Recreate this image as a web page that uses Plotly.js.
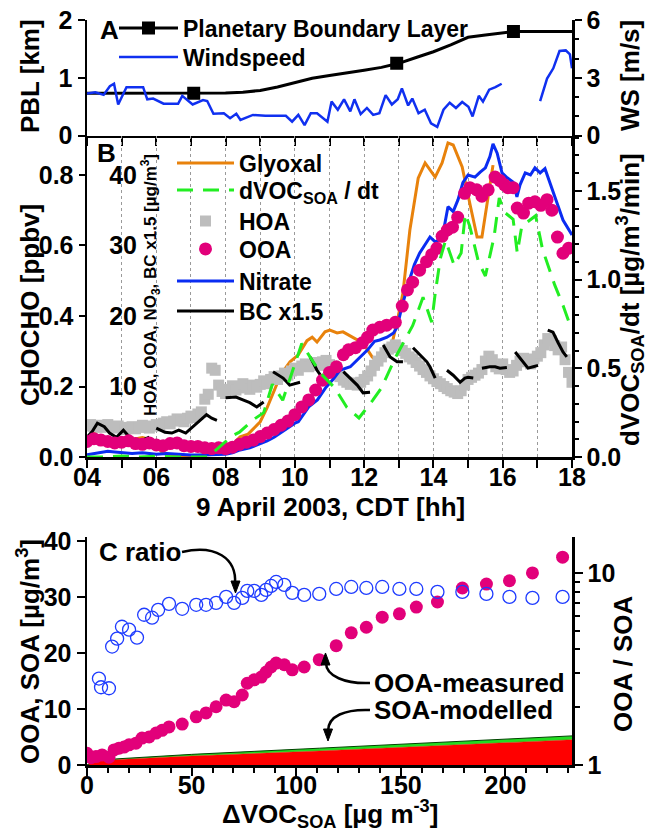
<!DOCTYPE html>
<html><head><meta charset="utf-8">
<script src="https://cdn.plot.ly/plotly-3.0.1.min.js"></script>
<style>body{margin:0;background:#fff}#chart{width:650px;height:831px}</style>
</head><body><div id="chart"></div>
<script>
// ---------------- DATA ----------------
// Panel A: planetary boundary layer (km) and wind speed (m/s), hour of day (CDT)
const pblHours = [4.0,5.0,6.0,7.0,7.5,8.0,8.5,9.0,9.5,10.0,10.5,11.0,11.5,12.0,12.5,13.0,13.5,14.0,14.5,15.0,15.5,16.0,16.3,17.0,18.0];
const pblKm    = [0.73,0.73,0.73,0.73,0.73,0.735,0.75,0.78,0.84,0.91,0.99,1.04,1.08,1.13,1.18,1.25,1.35,1.45,1.57,1.70,1.74,1.78,1.80,1.80,1.80];
const pblMarkHours = [7.08,12.94,16.31];
const pblMarkKm    = [0.73,1.25,1.80];
const wsHours = [4.00,4.24,4.48,4.66,4.78,4.90,5.14,5.32,5.62,5.74,5.91,6.21,6.51,6.63,6.75,7.05,7.35,7.47,7.65,7.95,8.13,8.31,8.43,8.79,9.15,9.62,9.74,9.92,10.10,10.28,10.46,10.64,10.94,11.06,11.24,11.42,11.60,11.72,11.90,12.08,12.26,12.44,12.62,12.80,12.97,13.09,13.27,13.39,13.57,13.75,13.93,14.11,14.29,14.47,14.65,14.83,15.01,15.13,15.31,15.43,15.61,15.79,15.97,16.50,17.08,17.28,17.46,17.64,17.82,17.94,18.00];
const wsValues = [2.18,2.24,2.11,2.56,2.69,1.61,2.51,2.51,2.51,1.88,1.92,1.65,1.65,1.65,2.06,1.61,1.84,1.79,1.13,1.16,0.90,1.13,0.81,1.07,1.02,1.04,1.02,0.72,1.07,0.54,1.16,1.16,0.72,1.76,1.34,1.88,1.25,1.88,1.11,1.43,1.07,1.16,2.10,1.61,1.88,2.45,1.56,1.92,1.16,1.34,0.63,0.45,1.34,1.70,1.43,1.74,1.49,0.99,2.06,1.76,2.38,2.51,2.69,null,1.79,2.96,3.49,4.39,4.42,4.21,3.49];

// Panel B
const glyHours  = [4.0,4.15,4.3,4.5,4.7,5.0,5.3,5.6,5.8,6.0,6.2,6.5,6.8,7.1,7.4,7.7,8.0,8.2,8.42,8.65,8.85,9.0,9.2,9.4,9.6,9.86,10.1,10.35,10.5,10.64,10.87,11.01,11.22,11.39,11.68,11.97,12.23,12.4,12.66,12.83,12.98,13.12,13.32,13.56,13.76,14.05,14.25,14.42,14.57,14.83,15.06,15.26,15.4,15.58,15.72];
const glyoxal   = [0.09,0.075,0.06,0.055,0.05,0.048,0.05,0.055,0.05,0.03,0.01,0.005,0.003,0.004,0.006,0.008,0.015,0.035,0.057,0.065,0.085,0.1,0.14,0.19,0.235,0.27,0.29,0.33,0.34,0.326,0.355,0.36,0.352,0.355,0.34,0.323,0.284,0.267,0.295,0.332,0.397,0.465,0.644,0.791,0.834,0.794,0.834,0.891,0.885,0.823,0.715,0.624,0.624,0.738,0.828];

const dvocHours = [4.0,4.5,5.0,5.5,6.0,6.5,7.0,7.5,7.9,8.2,8.4,8.8,9.1,9.35,9.65,9.95,10.2,10.45,10.75,11.15,11.5,11.85,12.25,12.5,12.9,13.4,13.7,13.95,14.05,14.2,14.35,14.6,14.8,14.92,15.05,15.3,15.5,15.75,15.9,16.05,16.3,16.42,16.55,16.95,17.15,17.5,17.75,17.95];
const dvocDt    = [0.0,0.0,0.005,0.0,0.005,0.0,0.0,0.0,0.07,0.12,0.14,0.21,0.25,0.41,0.32,0.5,0.64,0.56,0.47,0.39,0.28,0.22,0.32,0.39,0.56,0.74,0.9,0.76,0.92,1.12,1.22,1.08,1.15,1.37,1.3,1.1,1.02,1.24,1.46,1.38,1.34,1.15,1.3,1.36,1.17,0.97,0.85,0.74];

const hoaHours = [4.0,4.1,4.2,4.3,4.4,4.5,4.6,4.7,4.8,4.9,5.0,5.1,5.2,5.3,5.4,5.5,5.6,5.7,5.8,5.9,6.0,6.1,6.2,6.3,6.4,6.5,6.6,6.7,6.8,6.9,7.0,7.1,7.2,7.3,7.4,7.5,7.6,7.7,7.8,7.9,8.0,8.1,8.2,8.3,8.4,8.5,8.6,8.7,8.8,8.9,9.0,9.1,9.2,9.3,9.4,9.5,9.6,9.7,9.8,9.9,10.0,10.1,10.2,10.3,10.4,10.5,10.6,10.7,10.8,10.9,11.0,11.1,11.2,11.3,11.4,11.5,11.6,11.7,11.8,11.9,12.0,12.1,12.2,12.3,12.4,12.5,12.6,12.7,12.8,12.9,13.0,13.1,13.2,13.3,13.4,13.5,13.6,13.7,13.8,13.9,14.0,14.1,14.2,14.3,14.4,14.5,14.6,14.7,14.8,14.9,15.0,15.1,15.2,15.3,15.4,15.5,15.6,15.7,15.8,15.9,16.0,16.1,16.2,16.3,16.4,16.5,16.6,16.7,16.8,16.9,17.0,17.1,17.2,17.3,17.4,17.5,17.6,17.7,17.8,17.9,18.0];
const hoa = [4.4,4.6,4.3,4.5,4.2,4.4,4.6,4.3,4.1,4.4,4.2,3.9,4.1,4.3,4.0,4.2,4.5,4.3,4.1,4.4,4.6,4.4,4.8,5.0,4.7,5.1,5.4,5.2,5.0,5.5,5.8,5.6,6.1,6.4,8.2,8.9,12.6,12.3,10.2,9.3,9.0,9.6,10.1,9.5,9.8,10.4,10.0,9.6,10.2,9.9,10.3,10.8,10.4,11.0,11.4,11.0,11.5,11.9,11.6,12.2,12.6,12.3,12.9,13.2,12.8,13.1,13.4,13.0,13.5,13.7,13.1,12.4,11.8,11.4,10.9,10.6,10.3,10.5,10.2,10.6,11.0,11.5,12.2,13.0,13.6,14.2,14.8,15.3,15.6,15.9,15.5,15.1,14.7,14.2,13.9,13.4,12.9,12.4,12.0,11.5,11.1,10.7,10.4,10.0,9.7,9.4,9.2,9.0,9.4,10.2,11.0,11.3,11.6,11.9,12.4,13.6,14.3,13.8,12.8,12.5,13.2,12.4,12.0,12.2,13.0,13.6,14.0,13.5,13.2,13.9,14.3,14.8,15.9,16.8,16.5,15.8,15.2,15.6,13.8,12.0,10.6];

const ooaHours = [4.0,4.2,4.4,4.6,4.8,5.0,5.2,5.4,5.6,5.8,6.0,6.2,6.4,6.6,6.8,7.0,7.2,7.4,7.6,7.8,8.0,8.2,8.4,8.6,8.8,9.0,9.2,9.4,9.6,9.8,10.0,10.2,10.4,10.6,10.8,11.0,11.2,11.4,11.55,11.75,11.95,12.1,12.25,12.45,12.65,12.9,13.1,13.25,13.4,13.6,13.8,13.95,14.1,14.25,14.4,14.55,14.7,14.9,15.05,15.25,15.4,15.58,15.78,15.92,16.05,16.15,16.3,16.42,16.6,16.75,16.93,17.1,17.28,17.42,17.58,17.74,17.9];
const ooa = [2.2,2.6,2.4,2.2,2.0,2.1,2.3,1.9,1.8,2.0,1.7,1.6,1.9,2.0,1.6,1.5,1.5,1.3,1.2,1.3,1.2,1.4,1.8,2.1,2.4,2.9,3.4,3.9,4.5,5.1,6.0,7.1,8.1,9.5,10.9,12.0,12.8,14.5,15.2,15.5,16.2,17.0,18.0,18.4,18.7,19.1,21.4,23.7,24.8,26.5,27.7,28.7,29.6,31.3,32.2,32.6,34.0,37.4,38.2,37.9,37.0,37.9,39.7,39.2,38.6,38.2,38.2,35.3,34.6,36.0,36.2,35.7,36.5,35.0,31.2,28.9,29.6];

const no3Hours = [4.0,4.2,4.4,4.6,4.8,5.0,5.3,5.6,6.0,6.3,6.6,7.0,7.3,7.6,8.0,8.2,8.42,8.7,8.91,9.2,9.4,9.6,9.77,10.0,10.1,10.25,10.4,10.65,10.9,11.1,11.3,11.6,11.9,12.1,12.3,12.45,12.66,12.85,12.95,13.1,13.3,13.45,13.6,13.75,13.9,14.05,14.25,14.42,14.57,14.71,14.85,15.0,15.2,15.35,15.5,15.63,15.72,15.84,15.98,16.13,16.3,16.41,16.5,16.65,16.8,16.93,17.08,17.22,17.37,17.57,17.74,18.0];
const nitrate  = [0.3,0.5,0.7,0.8,0.7,0.6,0.5,0.6,0.4,0.5,0.4,0.3,0.3,0.3,0.4,0.6,1.0,1.3,1.7,2.3,2.8,3.5,4.1,4.8,5.0,6.0,7.1,8.1,9.9,11.0,12.3,12.8,14.2,15.2,16.4,16.6,17.0,17.6,18.4,21.5,25.0,27.3,28.9,30.1,31.2,30.5,31.0,35.5,34.8,36.5,38.9,40.0,39.7,40.4,41.0,42.6,44.4,43.1,40.3,39.6,39.0,36.9,38.6,40.3,40.0,41.0,40.3,40.9,38.9,36.0,33.6,31.5];

const bcHours = [4.0,4.15,4.3,4.5,4.65,4.85,5.05,5.25,5.45,5.6,5.8,5.9,6.0,6.25,6.45,6.65,6.85,7.05,7.25,7.45,7.6,7.75,7.9,8.0,8.3,8.5,8.7,8.9,9.1,9.2,9.37,9.66,9.85,10.15,10.3,10.44,10.64,10.8,10.95,11.2,11.4,11.6,11.8,11.97,12.17,12.4,12.55,12.75,12.95,13.12,13.3,13.41,13.61,13.81,13.9,14.05,14.2,14.39,14.57,14.77,14.91,15.0,15.15,15.3,15.4,15.63,15.78,15.92,16.12,16.25,16.36,16.5,16.65,16.73,16.88,17.02,17.15,17.3,17.45,17.6,17.74,17.85];
const bcX15   = [2.8,3.6,4.8,4.3,3.4,2.8,3.8,2.7,2.0,2.4,2.8,null,4.1,3.5,3.4,3.8,3.4,4.3,5.2,6.0,5.5,5.2,null,8.4,8.5,8.1,7.7,7.1,7.8,null,12.1,11.2,10.2,10.6,null,14.2,12.3,11.2,10.5,null,12.1,11.2,10.2,9.1,9.2,null,15.9,14.2,13.5,13.5,null,15.5,14.5,13.5,12.8,11.2,null,12.3,11.6,10.6,11.2,11.3,11.2,null,12.6,12.8,12.8,12.6,12.7,null,14.9,14.0,13.0,12.6,12.8,13.0,null,18.0,17.7,16.2,14.9,14.2];

const hourTickVals = [4,6,8,10,12,14,16,18];
const hourTickText = ['04','06','08','10','12','14','16','18'];

// Panel C: versus delta VOC_SOA (ug m-3)
const ooaDvoc = [0,1.9,4.3,7.2,10.5,12.9,15.3,17.7,20.1,23.4,26.3,29.7,33.0,35.9,39.2,45.5,52.2,56.9,61.7,66.5,70.3,74.2,76.6,79.9,83.3,85.6,88.0,90.4,94.3,98.1,103.8,111.0,119.1,126.3,133.5,141.1,149.3,157.4,167.5,179.4,190.9,201.9,212.9,227.3];
const ooaMeasured = [2.1,1.3,1.5,1.8,1.4,2.7,3.0,3.2,3.6,3.9,4.8,5.0,5.7,6.2,6.8,7.3,8.6,9.3,10.4,11.6,11.3,12.5,14.6,15.2,15.7,16.6,17.5,18.2,17.9,17.0,17.5,18.8,21.3,23.6,24.6,26.4,27.0,28.2,29.1,31.6,32.3,32.9,34.3,37.1];
const ratioDvoc = [5.7,6.7,10.5,12.0,14.4,16.7,20.1,23.9,27.3,31.1,34.0,39.2,45.5,52.2,56.9,61.7,66.5,70.3,74.2,76.6,79.9,83.3,85.6,88.0,90.4,94.3,98.1,103.8,111.0,119.1,126.3,133.5,141.1,149.3,157.4,167.5,179.4,190.9,201.9,212.9,227.3];
const ratioOoaSoa = [2.82,2.54,2.51,4.14,4.55,5.25,5.07,4.61,6.06,5.85,6.43,6.91,6.51,6.83,6.83,6.99,7.51,6.99,7.42,8.07,8.07,7.69,8.17,8.56,8.98,8.67,7.88,7.69,7.78,8.26,8.46,8.36,8.46,8.26,8.26,7.97,7.97,7.78,7.51,7.42,7.51];
const soaDvoc  = [0,4,10,50,111,170,231.8];
const soaRed   = [0,0.7,0.9,1.6,2.5,3.5,4.5];
const soaTotal = [0,0.8,1.0,1.9,3.0,4.1,5.2];

// ---------------- HELPERS ----------------
const W = 650, H = 831;
const px = v => v / W;
const py = v => 1 - v / H;
const P = (x, y) => px(x).toFixed(5) + ',' + py(y).toFixed(5);
const withGaps = arr => arr.flatMap((v, i) => i ? [null, v] : [v]);
const FAM = 'Liberation Sans, Arial, sans-serif';

const C_ORANGE = '#E8820C', C_GREEN = '#22EE22', C_GREY = '#BDBDBD', C_PINK = '#E2007A', C_BLUE = '#0A2CF2';

// ---------------- TRACES ----------------
const traces = [
  // Panel A
  {x: pblHours, y: pblKm, xaxis: 'x', yaxis: 'y', mode: 'lines', line: {color: '#000', width: 3},
   showlegend: false, hoverinfo: 'skip'},
  {x: withGaps(pblMarkHours), y: withGaps(pblMarkKm), xaxis: 'x', yaxis: 'y', mode: 'lines+markers',
   name: 'Planetary Boundary Layer', legend: 'legend',
   line: {color: '#000', width: 3}, marker: {symbol: 'square', size: 13, color: '#000'}, connectgaps: false},
  {x: wsHours, y: wsValues, xaxis: 'x', yaxis: 'y2', mode: 'lines', name: 'Windspeed', legend: 'legend2',
   line: {color: '#1030F0', width: 2.5}, connectgaps: false},

  // Panel B
  {x: glyHours, y: glyoxal, xaxis: 'x2', yaxis: 'y3', mode: 'lines', name: 'Glyoxal', legend: 'legend3',
   line: {color: C_ORANGE, width: 3}},
  {x: hoaHours, y: hoa, xaxis: 'x2', yaxis: 'y4', mode: 'markers', name: 'HOA', legend: 'legend5',
   marker: {symbol: 'square', size: 11, color: C_GREY}},
  {x: no3Hours, y: nitrate, xaxis: 'x2', yaxis: 'y4', mode: 'lines', name: 'Nitrate', legend: 'legend7',
   line: {color: C_BLUE, width: 3}},
  {x: bcHours, y: bcX15, xaxis: 'x2', yaxis: 'y4', mode: 'lines', name: 'BC x1.5', legend: 'legend8',
   line: {color: '#000', width: 3}, connectgaps: false},
  {x: ooaHours, y: ooa, xaxis: 'x2', yaxis: 'y4', mode: 'markers', name: 'OOA', legend: 'legend6',
   marker: {symbol: 'circle', size: 13, color: C_PINK}},
  {x: dvocHours, y: dvocDt, xaxis: 'x2', yaxis: 'y5', mode: 'lines', name: 'dVOC<sub>SOA</sub> / dt', legend: 'legend4',
   line: {color: C_GREEN, width: 3, dash: '16px,10px'}},

  // Panel C
  {x: soaDvoc, y: soaRed, xaxis: 'x3', yaxis: 'y6', mode: 'lines', fill: 'tozeroy', fillcolor: '#FF0000',
   line: {color: '#FF0000', width: 0.5}, showlegend: false},
  {x: soaDvoc, y: soaTotal, xaxis: 'x3', yaxis: 'y6', mode: 'lines', fill: 'tonexty', fillcolor: '#22DD22',
   line: {color: '#004400', width: 1}, showlegend: false},
  {x: ooaDvoc, y: ooaMeasured, xaxis: 'x3', yaxis: 'y6', mode: 'markers', showlegend: false,
   marker: {symbol: 'circle', size: 13, color: C_PINK}},
  {x: ratioDvoc, y: ratioOoaSoa, xaxis: 'x3', yaxis: 'y7', mode: 'markers', showlegend: false,
   marker: {symbol: 'circle-open', size: 13, color: '#1F3CFF', line: {width: 1.3}}}
];

// ---------------- LAYOUT ----------------
const XD = [px(87), px(572)];
const AX = {showline: true, linewidth: 2.5, linecolor: '#000', ticks: 'outside', tickwidth: 2, tickcolor: '#000',
            ticklen: 7, zeroline: false, showgrid: false, layer: 'above traces', fixedrange: true};
const TF = {size: 25, weight: 'bold', family: FAM, color: '#000'};

const layout = {
  width: W, height: H, margin: {l: 0, r: 0, t: 0, b: 0},
  paper_bgcolor: '#fff', plot_bgcolor: 'rgba(0,0,0,0)',
  font: {family: FAM, size: 25, color: '#000', weight: 'bold'},
  showlegend: true,

  // Panel A
  xaxis: Object.assign({}, AX, {domain: XD, anchor: 'y', range: [4, 18], tickmode: 'linear', tick0: 4, dtick: 1,
          showticklabels: false, ticklen: 8}),
  yaxis: Object.assign({}, AX, {domain: [py(135.5), py(20)], anchor: 'x', range: [0, 2], tickvals: [0, 1, 2],
          tickfont: TF}),
  yaxis2: Object.assign({}, AX, {overlaying: 'y', side: 'right', anchor: 'x', range: [0, 6], tickvals: [0, 3, 6],
          tickfont: TF, minor: {dtick: 1, tick0: 0, ticks: 'outside', ticklen: 4, tickwidth: 2, tickcolor: '#000'}}),

  // Panel B
  xaxis2: Object.assign({}, AX, {domain: XD, anchor: 'y3', range: [4, 18], tickmode: 'array',
          tickvals: hourTickVals, ticktext: hourTickText, ticklen: 8, tickfont: TF, ticklabelstandoff: -12,
          showgrid: true, gridcolor: '#9a9a9a', gridwidth: 1, griddash: 'dot',
          minor: {dtick: 1, tick0: 4, ticks: 'outside', ticklen: 8, tickwidth: 2, tickcolor: '#000',
                  showgrid: true, gridcolor: '#9a9a9a', gridwidth: 1, griddash: 'dot'}}),
  yaxis3: Object.assign({}, AX, {domain: [py(457), py(135.5)], anchor: 'x2', range: [0, 0.912],
          tickvals: [0, 0.2, 0.4, 0.6, 0.8], tickformat: '.1f', ticklen: 6, tickfont: TF}),
  yaxis4: {overlaying: 'y3', anchor: 'free', position: px(137), side: 'left', range: [0, 45.6],
          tickvals: [10, 20, 30, 40], ticks: '', showline: false, showgrid: false, zeroline: false,
          tickfont: TF, fixedrange: true},
  yaxis8: {overlaying: 'y3', anchor: 'x2', side: 'left', range: [0, 0.912], tickvals: [0.2, 0.4, 0.6, 0.8],
          ticks: 'inside', ticklen: 6, tickwidth: 2, tickcolor: '#000', showticklabels: false, showline: false,
          showgrid: false, zeroline: false, fixedrange: true},
  yaxis5: Object.assign({}, AX, {overlaying: 'y3', side: 'right', anchor: 'x2', range: [0, 1.812],
          tickvals: [0, 0.5, 1, 1.5], tickformat: '.1f', tickfont: TF,
          minor: {dtick: 0.1, tick0: 0, ticks: 'outside', ticklen: 4, tickwidth: 2, tickcolor: '#000'}}),

  // Panel C
  xaxis3: Object.assign({}, AX, {domain: XD, anchor: 'y6', range: [0, 231.8], tickvals: [0, 50, 100, 150, 200],
          ticklen: 8, tickfont: TF, ticklabelstandoff: -12,
          minor: {dtick: 10, tick0: 0, ticks: 'outside', ticklen: 5, tickwidth: 2, tickcolor: '#000'}}),
  yaxis6: Object.assign({}, AX, {domain: [py(765), py(537)], anchor: 'x3', range: [0, 40.71],
          tickvals: [0, 10, 20, 30, 40], ticklen: 8, tickfont: TF}),
  yaxis7: Object.assign({}, AX, {overlaying: 'y6', side: 'right', anchor: 'x3', type: 'log', range: [0, 1.1875],
          tickvals: [1, 10], ticktext: ['1', '10'], ticklen: 8, tickfont: TF,
          minor: {tickmode: 'array', tickvals: [2, 3, 4, 5, 6, 7, 8, 9], ticks: 'outside', ticklen: 5,
                  tickwidth: 2, tickcolor: '#000'}}),

  annotations: [],
  shapes: []
};

// one legend box per entry so every row sits where the reference puts it
function legendBox(name, left, rowCenterY, itemwidth) {
  layout[name] = {x: px(left), y: py(rowCenterY - 20.5), xanchor: 'left', yanchor: 'top',
    bgcolor: 'rgba(0,0,0,0)', borderwidth: 0, font: {size: 23, weight: 'bold', family: FAM, color: '#000'},
    itemwidth: itemwidth, tracegroupgap: 0};
}
legendBox('legend', 114, 27, 59);
legendBox('legend2', 114, 56, 59);
legendBox('legend3', 172, 162, 57);
legendBox('legend4', 172, 189, 57);
legendBox('legend5', 172, 220, 57);
legendBox('legend6', 172, 248, 57);
legendBox('legend7', 172, 280, 57);
legendBox('legend8', 172, 310, 57);

function label(text, x, y, opts) {
  layout.annotations.push(Object.assign({text: text, x: px(x), y: py(y), xref: 'paper', yref: 'paper',
    showarrow: false, xanchor: 'center', yanchor: 'middle',
    font: {size: 26, weight: 'bold', color: '#000', family: FAM}}, opts || {}));
}
// panel letters and free text
label('A', 98, 30, {xanchor: 'left'});
label('B', 95, 153, {xanchor: 'left'});
label('C ratio', 97, 552, {xanchor: 'left'});
label('OOA-measured', 372, 683, {xanchor: 'left'});
label('SOA-modelled', 372, 710, {xanchor: 'left'});
// axis titles
label('PBL [km]', 30, 76, {textangle: -90});
label('WS [m/s]', 630, 76, {textangle: -90});
label('CHOCHO [ppbv]', 30, 305, {textangle: -90});
label('HOA, OOA, NO<sub>3</sub>, BC x1.5 [\u00b5g/m<sup>3</sup>]', 150, 285,
      {textangle: -90, font: {size: 17, weight: 'bold', color: '#000', family: FAM}});
label('dVOC<sub>SOA</sub>/dt [\u00b5g/m<sup>3</sup>/min]', 630, 300, {textangle: -90});
label('9 April 2003, CDT [hh]', 330, 507);
label('OOA, SOA [\u00b5g/m<sup>3</sup>]', 28, 652, {textangle: -90});
label('OOA / SOA', 623, 664, {textangle: -90});
label('\u0394VOC<sub>SOA</sub> [\u00b5g m<sup>-3</sup>]', 330, 814);

// curved annotation arrows (decoration)
function curve(d) {
  layout.shapes.push({type: 'path', xref: 'paper', yref: 'paper', path: d, line: {color: '#000', width: 2.5}});
}
function head(a, b, c) {
  layout.shapes.push({type: 'path', xref: 'paper', yref: 'paper', path: 'M' + P(a[0], a[1]) + ' L' + P(b[0], b[1]) + ' L' + P(c[0], c[1]) + ' Z',
    fillcolor: '#000', line: {color: '#000', width: 1}});
}
curve('M' + P(182, 552) + ' C' + P(215, 544) + ' ' + P(237, 558) + ' ' + P(235, 584));
head([235.5, 593], [231, 581], [240, 581]);
curve('M' + P(370, 683) + ' C' + P(345, 684) + ' ' + P(326, 676) + ' ' + P(326, 663));
head([325.5, 653], [321, 665], [330, 665]);
curve('M' + P(370, 710) + ' C' + P(345, 709) + ' ' + P(328, 716) + ' ' + P(328, 731));
head([328, 741], [323.5, 729], [332.5, 729]);

Plotly.newPlot('chart', traces, layout, {staticPlot: true, displayModeBar: false});
</script></body></html>
